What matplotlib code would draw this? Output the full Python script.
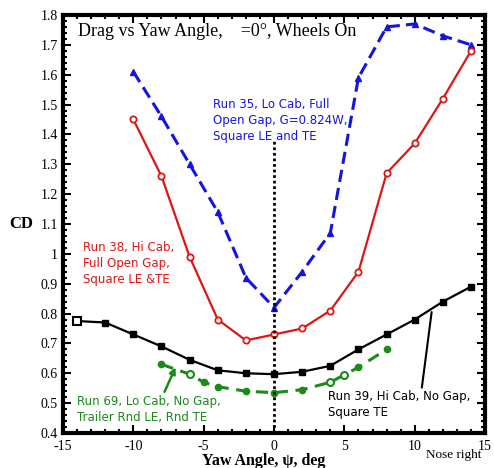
import numpy as np
import matplotlib
matplotlib.use('Agg')
import matplotlib.pyplot as plt
from matplotlib.ticker import MultipleLocator

# Run 35, Lo Cab, full open gap (blue, dashed, triangles)
yaw_35 = [-10, -8, -6, -4, -2, 0, 2, 4, 6, 8, 10, 12, 14]
cd_35 = [1.61, 1.46, 1.30, 1.14, 0.92, 0.82, 0.94, 1.07, 1.59, 1.76, 1.77, 1.73, 1.70]

# Run 38, Hi Cab, full open gap (red, solid, circles)
yaw_38 = [-10, -8, -6, -4, -2, 0, 2, 4, 6, 8, 10, 12, 14]
cd_38 = [1.45, 1.26, 0.99, 0.78, 0.71, 0.73, 0.75, 0.81, 0.94, 1.27, 1.37, 1.52, 1.68]

# Run 39, Hi Cab, no gap (black, solid, squares)
yaw_39 = [-14, -12, -10, -8, -6, -4, -2, 0, 2, 4, 6, 8, 10, 12, 14]
cd_39 = [0.775, 0.77, 0.73, 0.69, 0.645, 0.61, 0.60, 0.597, 0.605, 0.625, 0.68, 0.73, 0.78, 0.84, 0.89]

# Run 69, Lo Cab, no gap, round LE/TE (green, dashed, circles)
yaw_69 = [-8, -6, -5, -4, -2, 0, 2, 4, 5, 6, 8]
cd_69 = [0.63, 0.597, 0.57, 0.555, 0.54, 0.535, 0.545, 0.57, 0.595, 0.62, 0.68]

serif = 'Liberation Serif'

fig = plt.figure(figsize=(4.94, 4.68), dpi=100)
ax = fig.add_axes([0.1275, 0.0748, 0.8545, 0.8932])

ax.plot(yaw_35, cd_35, color='#1515e0', ls=(0, (4, 2)), lw=2.2, marker='^', ms=4.5,
        mfc='#1515e0', mec='#1515e0')
ax.plot(yaw_38, cd_38, color='#e01515', ls='-', lw=1.6, marker='o', ms=4.5,
        mfc='white', mec='#e01515', mew=1.3)
ax.plot(yaw_39, cd_39, color='black', ls='-', lw=1.6, marker='s', ms=4.5,
        mfc='black', mec='black')
ax.plot(yaw_69, cd_69, color='#1a8a1a', ls=(0, (4, 2.5)), lw=2.2, marker='o', ms=4.5,
        mfc='#1a8a1a', mec='#1a8a1a')
# open markers at the ends of some runs
ax.plot(yaw_39[0], cd_39[0], marker='s', ms=6, mfc='white', mec='black', mew=1.5)
ax.plot(yaw_69[1], cd_69[1], marker='o', ms=5, mfc='white', mec='#1a8a1a', mew=1.5)
ax.plot(yaw_69[7:9], cd_69[7:9], ls='none', marker='o', ms=5, mfc='white',
        mec='#1a8a1a', mew=1.5)

# zero yaw reference line
ax.plot([0, 0], [0.4, 1.38], color='black', ls=(0, (1, 1)), lw=2)

ax.set_xlim(-15, 15)
ax.set_ylim(0.4, 1.8)
ax.xaxis.set_minor_locator(MultipleLocator(1))
ax.yaxis.set_minor_locator(MultipleLocator(0.02))
ax.tick_params(which='both', direction='in', top=True, right=True, width=1.5)
ax.tick_params(which='major', length=6, labelsize=10)
ax.tick_params(which='minor', length=3)
ax.tick_params(axis='x', which='major', pad=5)
for s in ax.spines.values():
    s.set_linewidth(3)
ax.set_yticks(np.arange(0.4, 1.81, 0.1))
ax.set_yticklabels(['0.4', '0.5', '0.6', '0.7', '0.8', '0.9', '1', '1.1', '1.2',
                    '1.3', '1.4', '1.5', '1.6', '1.7', '1.8'], family=serif)
ax.set_xticks([-15, -10, -5, 0, 5, 10, 15])
ax.set_xticklabels(['-15', '-10', '-5', '0', '5', '10', '15'], family=serif)

ax.set_xlabel('Yaw Angle, ψ, deg', family=serif, fontweight='bold', fontsize=11.5)
ax.xaxis.set_label_coords(0.476, -0.048)
ax.text(-0.127, 0.5, 'CD', transform=ax.transAxes, family=serif, fontweight='bold',
        fontsize=12, ha='left', va='center')

ax.text(-13.9, 1.743, 'Drag vs Yaw Angle,    =0°, Wheels On', family=serif,
        fontsize=13, va='center')

fs = 8.5
ls = 1.3
ax.text(-4.35, 1.448, 'Run 35, Lo Cab, Full\nOpen Gap, G=0.824W,\nSquare LE and TE',
        color='#1515e0', fontsize=fs, va='center', linespacing=ls)
ax.text(-13.6, 0.966, 'Run 38, Hi Cab,\nFull Open Gap,\nSquare LE &TE',
        color='#e01515', fontsize=fs, va='center', linespacing=ls)
ax.annotate('Run 69, Lo Cab, No Gap,\nTrailer Rnd LE, Rnd TE', xy=(-7.0, 0.62),
            xytext=(-14.0, 0.48), color='#1a8a1a', fontsize=fs, va='center',
            linespacing=ls,
            arrowprops=dict(arrowstyle='-|>', color='#1a8a1a', lw=1.8,
                            shrinkA=0, shrinkB=0, mutation_scale=9,
                            relpos=(0.6, 1.0)))
ax.annotate('Run 39, Hi Cab, No Gap,\nSquare TE', xy=(11.2, 0.805),
            xytext=(3.8, 0.494), color='black', fontsize=fs, va='center',
            linespacing=ls,
            arrowprops=dict(arrowstyle='-', color='black', lw=1.5,
                            shrinkA=0, shrinkB=0, relpos=(0.66, 1.0)))
ax.text(10.8, 0.325, 'Nose right', family=serif, fontsize=9.5, va='center')

fig.savefig('out.png', dpi=100)
